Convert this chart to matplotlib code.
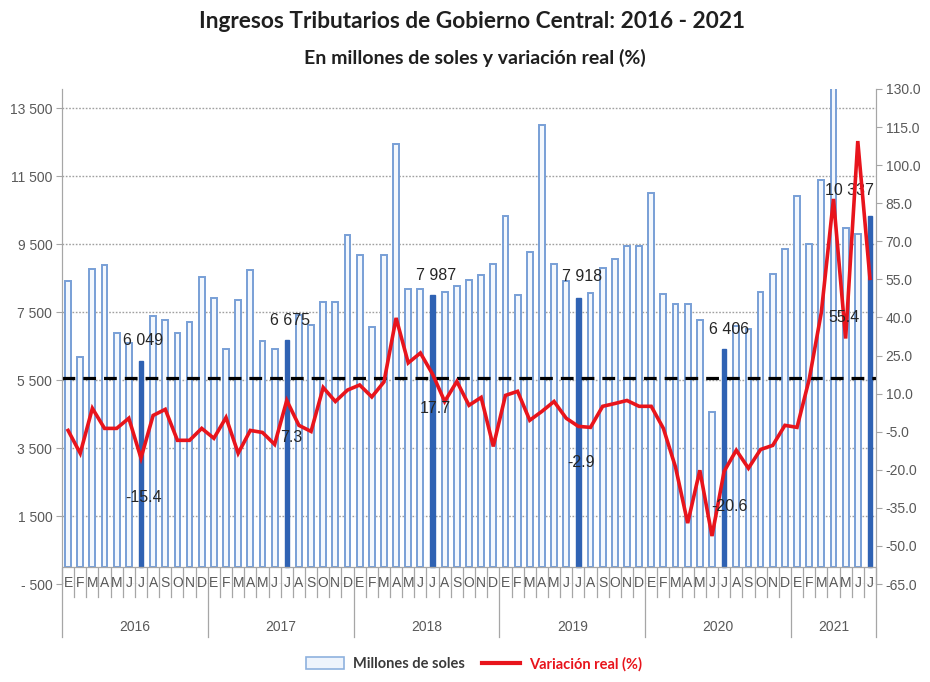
import numpy as np
import matplotlib
matplotlib.use("Agg")
import matplotlib.pyplot as plt
from matplotlib.patches import Patch
from matplotlib.lines import Line2D
import matplotlib.transforms as mtransforms

# ---------------- data ----------------
years = ["2016", "2017", "2018", "2019", "2020", "2021"]
month_letters = ["E", "F", "M", "A", "M", "J", "J", "A", "S", "O", "N", "D"]
months_per_year = [12, 12, 12, 12, 12, 7]

millones_2016 = [8400, 6170, 8770, 8880, 6870, 6600, 6049, 7395, 7280, 6870, 7220, 8530]
millones_2017 = [7920, 6400, 7860, 8740, 6640, 6400, 6675, 7400, 7120, 7800, 7800, 9760]
millones_2018 = [9170, 7070, 9170, 12440, 8180, 8180, 7987, 8090, 8270, 8445, 8590, 8910]
millones_2019 = [10310, 8010, 9260, 12990, 8910, 8400, 7918, 8060, 8790, 9060, 9440, 9440]
millones_2020 = [11010, 8040, 7745, 7745, 7280, 4570, 6406, 7100, 7000, 8090, 8620, 9350]
millones_2021 = [10900, 9495, 11390, 14600, 9960, 9790, 10337]

var_2016 = [-4.5, -13.5, 4.2, -3.7, -3.7, 0.3, -15.4, 1.4, 3.8, -8.4, -8.4, -3.7]
var_2017 = [-7.6, 0.6, -13.5, -4.5, -5.3, -10.0, 7.3, -2.5, -4.9, 12.4, 6.9, 11.4]
var_2018 = [13.4, 8.7, 14.6, 39.8, 22.1, 26.0, 17.7, 6.9, 14.8, 5.4, 8.5, -10.8]
var_2019 = [9.3, 10.9, -0.5, 3.0, 6.9, 0.3, -2.9, -3.3, 5.0, 6.1, 7.3, 5.0]
var_2020 = [5.0, -3.7, -19.0, -41.0, -20.2, -46.1, -20.6, -12.3, -19.4, -12.0, -10.4, -2.5]
var_2021 = [-3.3, 15.6, 42.0, 86.7, 31.7, 109.5, 55.4]

reference_level = 5550  # dashed black line (millones)

left_ticks = [-500, 1500, 3500, 5500, 7500, 9500, 11500, 13500]
left_tick_labels = ["- 500", "1 500", "3 500", "5 500", "7 500", "9 500", "11 500", "13 500"]
right_ticks = [-65, -50, -35, -20, -5, 10, 25, 40, 55, 70, 85, 100, 115, 130]

millones = millones_2016 + millones_2017 + millones_2018 + millones_2019 + millones_2020 + millones_2021
variacion = var_2016 + var_2017 + var_2018 + var_2019 + var_2020 + var_2021
month_labels = []
for n in months_per_year:
    month_labels += month_letters[:n]
n = len(millones)
x = np.arange(n)
is_july = np.array([lab == "J" and i % 12 == 6 for i, lab in enumerate(month_labels)])

# ---------------- style ----------------
NARROW = ["Liberation Sans Narrow", "Liberation Sans", "DejaVu Sans"]
GRAY = "#595959"
RED = "#E8141C"

fig = plt.figure(figsize=(9.3, 6.82), dpi=100)
L, R, T, B = 62, 876, 89, 584
W, H = 930, 682
ax = fig.add_axes([L / W, 1 - B / H, (R - L) / W, (B - T) / H])
ax2 = ax.twinx()

# bars
light = ~is_july
ax.bar(x[light], np.array(millones)[light], width=0.48, color="#F4F8FD",
       edgecolor="#789FD6", linewidth=1.4, zorder=2)
ax.bar(x[is_july], np.array(millones)[is_july], width=0.36, color="#2F62B3",
       edgecolor="#2F62B3", linewidth=1.0, zorder=2)

ax.set_ylim(-500, 14060)
ax.set_xlim(-0.5, n - 0.5)
ax.set_yticks(left_ticks)
ax.set_yticklabels(left_tick_labels)
ax.grid(axis="y", linestyle=(0, (1.2, 1.2)), color="#A0A0A0", linewidth=1.0, zorder=1)
ax.set_axisbelow(True)
ax.axhline(0, color="#A6A6A6", linewidth=0.9, zorder=3)
ax.axhline(reference_level, color="black", linestyle=(0, (4, 2.5)), linewidth=2.3, zorder=4)

for sp in ["top", "bottom"]:
    ax.spines[sp].set_visible(False)
    ax2.spines[sp].set_visible(False)
for a in (ax, ax2):
    a.spines["left"].set_color("#A6A6A6")
    a.spines["right"].set_color("#A6A6A6")
ax.tick_params(axis="y", direction="out", length=4, color="#A6A6A6", labelcolor=GRAY,
               labelsize=10, pad=3)
ax.tick_params(axis="x", length=0, labelbottom=False)
for t in ax.get_yticklabels():
    t.set_fontfamily(NARROW)

# line
ax2.plot(x, variacion, color=RED, linewidth=2.6, zorder=5, solid_joinstyle="miter")
ax2.set_ylim(-65, 130)
ax2.set_yticks(right_ticks)
ax2.set_yticklabels([f"{v:.1f}" for v in right_ticks])
ax2.tick_params(axis="y", direction="out", length=4, color="#A6A6A6", labelcolor=GRAY,
                labelsize=10, pad=3)
for t in ax2.get_yticklabels():
    t.set_fontfamily(NARROW)

# category axis (months / years)
trans = mtransforms.blended_transform_factory(ax.transData, ax.transAxes)
y_top = (B - 568) / (B - T)
y_month_bot = (B - 597) / (B - T)
y_year_bot = (B - 637) / (B - T)
y_month = (B - 583) / (B - T)
y_year = (B - 627) / (B - T)
year_starts = np.cumsum([0] + months_per_year)
for i in range(n + 1):
    xb = i - 0.5
    bottom = y_year_bot if i in year_starts else y_month_bot
    ax.plot([xb, xb], [y_top, bottom], transform=trans, color="#A6A6A6",
            linewidth=0.9, clip_on=False, zorder=3)
for i, lab in enumerate(month_labels):
    ax.text(i, y_month, lab, transform=trans, ha="center", va="center",
            fontsize=10, color=GRAY, family=NARROW)
for k, yr in enumerate(years):
    mid = (year_starts[k] + year_starts[k + 1] - 1) / 2
    ax.text(mid, y_year, yr, transform=trans, ha="center", va="center",
            fontsize=10, color=GRAY, family=NARROW)

# value labels for July bars and line points
july_idx = list(np.where(is_july)[0])
bar_offsets = [(2, 21), (3, 20), (4, 20), (4, 21), (5, 20), (-20, 25)]
line_offsets = [(3, -39), (4, -37), (3, -34), (3, -36), (5, -35), (-26, -39)]
for j, i in enumerate(july_idx):
    v = millones[i]
    ax.annotate(f"{v:,}".replace(",", " "), (i, v), xytext=bar_offsets[j],
                textcoords="offset pixels", ha="center", va="center",
                fontsize=11.5, color="#262626", family=["Liberation Sans", "DejaVu Sans"],
                zorder=6, annotation_clip=False)
    vv = variacion[i]
    ax2.annotate(f"{vv:.1f}", (i, vv), xytext=line_offsets[j],
                 textcoords="offset pixels", ha="center", va="center",
                 fontsize=11.5, color="#262626", family=["Liberation Sans", "DejaVu Sans"],
                 zorder=6, annotation_clip=False)

# titles
fig.text(0.507, 1 - 22 / H, "Ingresos Tributarios de Gobierno Central: 2016 - 2021",
         ha="center", va="center", fontsize=16.3, fontweight="bold", color="#1F1F1F",
         family=["Lato", "DejaVu Sans"])
fig.text(0.511, 1 - 58 / H, "En millones de soles y variación real (%)",
         ha="center", va="center", fontsize=14, fontweight="bold", color="#1F1F1F",
         family=["Lato", "DejaVu Sans"])

# legend
handles = [Patch(facecolor="#EEF4FC", edgecolor="#8EB1DE", linewidth=1.2),
           Line2D([0], [0], color=RED, linewidth=3)]
leg = fig.legend(handles, ["Millones de soles", "Variación real (%)"], loc="center",
                 bbox_to_anchor=(0.51, 1 - 664 / H), ncol=2, frameon=False,
                 handlelength=2.6, handleheight=0.9, columnspacing=1.2, handletextpad=0.6,
                 prop={"family": ["Lato", "DejaVu Sans"], "weight": "bold", "size": 10.5})
texts = leg.get_texts()
texts[0].set_color("#3A3A3A")
texts[1].set_color(RED)

fig.savefig("out.png", dpi=100)
